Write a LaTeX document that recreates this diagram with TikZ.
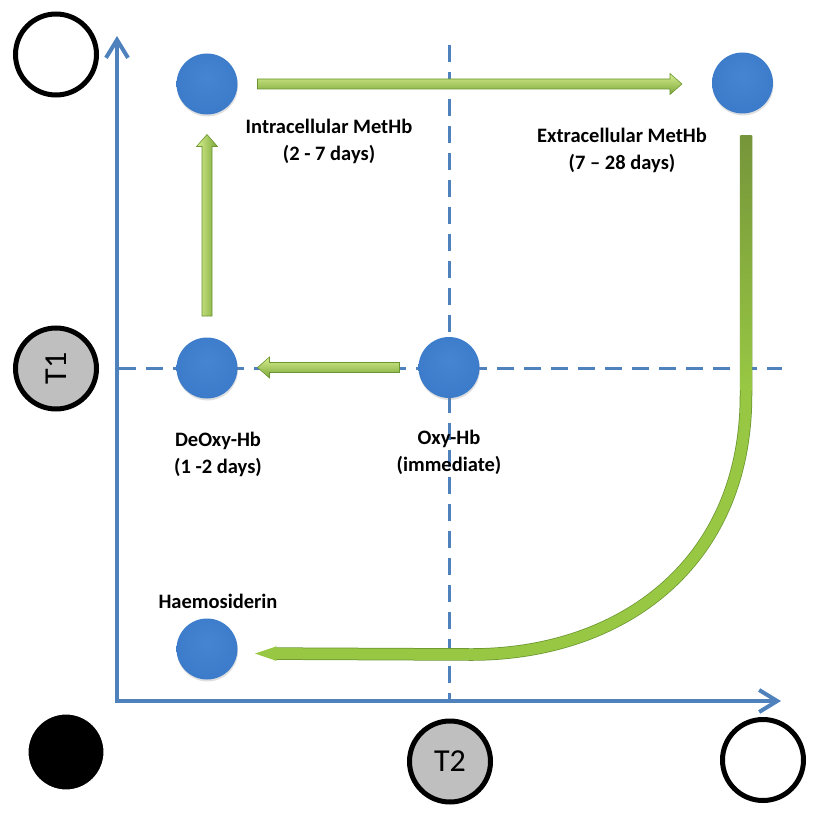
\documentclass[tikz,border=0pt]{standalone}
\usepackage{fontspec}
\setmainfont{Carlito}
\usetikzlibrary{arrows.meta,calc,shadows}
\definecolor{axisblue}{HTML}{4F81BD}
\definecolor{ballA}{HTML}{4585D2}
\definecolor{ballB}{HTML}{3B7AC8}
\definecolor{ballC}{HTML}{3370BB}
\definecolor{ballD}{HTML}{29578F}
\definecolor{gA}{HTML}{D6EF8E}
\definecolor{gB}{HTML}{A6D052}
\definecolor{gC}{HTML}{7CA63A}
\definecolor{gD}{HTML}{6A9530}
\definecolor{olive}{HTML}{76953A}
\definecolor{curvegreen}{HTML}{98C843}
\definecolor{tgray}{HTML}{BFBFBF}
\pgfdeclareradialshading{bball}{\pgfpoint{0bp}{6bp}}{color(0bp)=(ballA); color(30bp)=(ballB); color(43bp)=(ballC); color(50bp)=(ballD)}
\begin{document}
\begin{tikzpicture}[x=1pt,y=-1pt,
  axisline/.style={draw=axisblue, line width=4pt, line join=miter},
  guide/.style={draw=axisblue, line width=3pt, dash pattern=on 17pt off 10pt},
  ball/.style={circle, minimum size=61pt, inner sep=0pt, outer sep=0pt, shading=bball,
    drop shadow={opacity=0.25, shadow xshift=0.5pt, shadow yshift=-2pt}},
  ringc/.style={circle, draw=black, line width=5pt, minimum size=81pt, inner sep=0pt, outer sep=0pt},
  lbl/.style={align=center, font=\fontsize{20.5}{27}\selectfont\bfseries},
  tlbl/.style={font=\fontsize{32}{32}\selectfont},
  garrow/.style={draw=gD, line width=0.6pt, line join=miter},
  barb/.tip={Straight Barb[length=18pt, width=22pt]}
]
\useasboundingbox (0,0) rectangle (828,816);

% axes
\coordinate (ytip) at (117,36);
\coordinate (origin) at (117,701);
\coordinate (xtip) at (781,701);
\draw[axisline, barb-barb] (ytip) -- (origin) -- (xtip);

% guide lines
\coordinate (vtop) at (449,45);
\coordinate (vbot) at (449,699);
\coordinate (hleft) at (119,368);
\coordinate (hright) at (782,368);
\draw[guide] (hleft) -- (hright);
\draw[guide] (vtop) -- (vbot);

% corner circles
\node[ringc, fill=white] (tl) at (56,54.5) {};
\node[ringc, fill=white] (br) at (763,760) {};
\node[ringc, fill=tgray, rotate=90, tlbl] (t1) at (56,368.5) {T1};
\node[ringc, fill=tgray, tlbl] (t2) at (450,761.5) {T2};
\node[circle, fill=black, draw=white, line width=5pt, minimum size=80pt, inner sep=0pt,
  drop shadow={opacity=0.3, shadow xshift=0.5pt, shadow yshift=-1.5pt}] (blk) at (66,752) {};

% balls
\node[ball] (intra) at (207,84) {};
\node[ball] (extra) at (742.5,83) {};
\node[ball] (deoxy) at (207,368) {};
\node[ball] (oxy) at (449,367.5) {};
\node[ball] (haem) at (207,649) {};

% labels
\node[lbl] (lintra) at (329,141) {Intracellular MetHb\\(2 - 7 days)};
\node[lbl] (lextra) at (622,150) {Extracellular MetHb\\(7 -- 28 days)};
\node[lbl] (ldeoxy) at (218,454) {DeOxy-Hb\\(1 -2 days)};
\node[lbl] (loxy) at (449,452) {Oxy-Hb\\(immediate)};
\node[lbl] (lhaem) at (218,601) {Haemosiderin};

% green block arrows
\path[garrow, top color=gA, middle color=gB, bottom color=gC]
  let \p1=($(intra.east)+(20,0)$), \p2=($(extra.west)+(-30,0)$) in
  (\x1,\y1+5pt) -- (\x2-12pt,\y1+5pt) -- (\x2-12pt,\y1+10.5pt) -- (\x2,\y1)
  -- (\x2-12pt,\y1-10.5pt) -- (\x2-12pt,\y1-5pt) -- (\x1,\y1-5pt) -- cycle;
\path[garrow, top color=gA, middle color=gB, bottom color=gC]
  let \p1=($(oxy.west)+(-19,0)$), \p2=($(deoxy.east)+(20,0)$) in
  (\x1,\y1+5pt) -- (\x2+12pt,\y1+5pt) -- (\x2+12pt,\y1+10.5pt) -- (\x2,\y1)
  -- (\x2+12pt,\y1-10.5pt) -- (\x2+12pt,\y1-5pt) -- (\x1,\y1-5pt) -- cycle;
\path[garrow, left color=gA, middle color=gB, right color=gC]
  let \p1=($(deoxy.north)+(0,-21.5)$), \p2=($(intra.south)+(0,20)$) in
  (\x1-5pt,\y1) -- (\x1-5pt,\y2-12pt) -- (\x1-10.5pt,\y2-12pt) -- (\x1,\y2)
  -- (\x1+10.5pt,\y2-12pt) -- (\x1+5pt,\y2-12pt) -- (\x1+5pt,\y1) -- cycle;

% curved arrow
\coordinate (cs) at ($(extra.south)+(3.5,22)$);
\coordinate (ce) at ($(haem.east)+(11,4.5)$);
\draw[draw=curvegreen, line width=11pt, -{Triangle[length=28pt,width=11.5pt]},
  preaction={draw=gD, line width=12.5pt, -, shorten >=27pt}]
  (cs) -- (746,395) .. controls (746,565) and (620,655) .. (470,654.5) -- (ce);
\shade[top color=olive, bottom color=curvegreen] ($(cs)+(-5.5,0)$) rectangle ($(cs)+(5.5,255)$);
\end{tikzpicture}
\end{document}
